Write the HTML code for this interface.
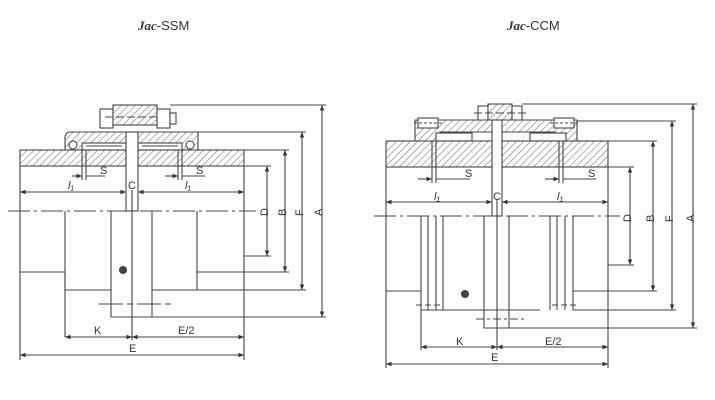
<!DOCTYPE html>
<html><head><meta charset="utf-8"><style>
html,body{margin:0;padding:0;background:#fff}
svg{display:block}
text{font-family:"Liberation Sans",sans-serif;fill:#333}
</style></head><body>
<svg width="715" height="400" viewBox="0 0 715 400" xmlns="http://www.w3.org/2000/svg">
<defs>
<pattern id="h" width="5" height="5" patternUnits="userSpaceOnUse" patternTransform="rotate(45)">
<rect width="5" height="5" fill="#fff"/><line x1="0" y1="0" x2="0" y2="5" stroke="#555" stroke-width="0.9"/></pattern>
<marker id="a" viewBox="0 0 10 10" refX="10" refY="5" markerWidth="6" markerHeight="5" orient="auto-start-reverse">
<path d="M0,1 L10,5 L0,9 z" fill="#333"/></marker>
</defs>
<text x="138" y="30" font-size="13"><tspan font-family="Liberation Serif" font-weight="bold" font-style="italic">Jac</tspan>-SSM</text>
<text x="507" y="30" font-size="13"><tspan font-family="Liberation Serif" font-weight="bold" font-style="italic">Jac</tspan>-CCM</text>

<g stroke="#444" stroke-width="1.1" fill="none">
<!-- ===== LEFT ===== -->
<rect x="100" y="109" width="13" height="19" fill="#fff"/>
<rect x="113" y="105" width="44" height="20" fill="url(#h)"/>
<rect x="157" y="109" width="13" height="19" fill="#fff"/>
<rect x="170" y="113" width="6" height="11" fill="#fff"/>
<line x1="105" y1="117" x2="160" y2="117" stroke-dasharray="8,3"/>
<path d="M65,150 L65,138 Q65,132 71,132 L198,132 L198,150 Z" fill="url(#h)"/>
<rect x="82" y="143" width="44" height="7" fill="#fff"/>
<rect x="138" y="143" width="44" height="7" fill="#fff"/>
<line x1="86" y1="146" x2="122" y2="146"/><line x1="142" y1="146" x2="178" y2="146"/>
<circle cx="73" cy="145" r="4" fill="#fff"/><circle cx="190" cy="145" r="4" fill="#fff"/>
<rect x="20" y="150" width="106" height="16" fill="url(#h)"/>
<rect x="138" y="150" width="106" height="16" fill="url(#h)"/>
<rect x="126" y="132" width="12" height="79" fill="#fff"/>
<path d="M20,166 L20,272 L65,272 L65,337"/>
<path d="M65,211 L65,290 L111,290"/>
<path d="M111,211 L111,317 L152,317 L152,211"/>
<path d="M197,211 L197,290 L152,290"/>
<path d="M197,272 L244,272"/>
<path d="M244,166 L244,360"/>
<path d="M20,272 L20,360"/>
<line x1="132" y1="190" x2="132" y2="340"/>
<line x1="8" y1="211" x2="256" y2="211" stroke-dasharray="22,4,3,4"/>
<line x1="99" y1="304" x2="174" y2="304" stroke-dasharray="24,4,6,4"/>
<circle cx="123" cy="270" r="3.5" fill="#444"/>
<path d="M170,105 H326 M198,132 H306 M244,150 H289 M244,166 H271 M244,256 H271 M197,272 H289 M152,290 H306 M152,317 H326"/>
<line x1="322" y1="105" x2="322" y2="317" marker-start="url(#a)" marker-end="url(#a)"/>
<line x1="302" y1="132" x2="302" y2="290" marker-start="url(#a)" marker-end="url(#a)"/>
<line x1="285" y1="150" x2="285" y2="272" marker-start="url(#a)" marker-end="url(#a)"/>
<line x1="267" y1="166" x2="267" y2="256" marker-start="url(#a)" marker-end="url(#a)"/>
<line x1="20" y1="192" x2="126" y2="192" marker-start="url(#a)" marker-end="url(#a)"/>
<line x1="138" y1="192" x2="244" y2="192" marker-start="url(#a)" marker-end="url(#a)"/>
<line x1="65" y1="337" x2="132" y2="337" marker-start="url(#a)" marker-end="url(#a)"/>
<line x1="132" y1="337" x2="244" y2="337" marker-start="url(#a)" marker-end="url(#a)"/>
<line x1="20" y1="355" x2="244" y2="355" marker-start="url(#a)" marker-end="url(#a)"/>
<path d="M82,150 V180 M86,150 V180 M178,150 V180 M182,150 V180"/>
<line x1="72" y1="176" x2="82" y2="176" marker-end="url(#a)"/><path d="M86,176 H105"/>
<line x1="165" y1="176" x2="178" y2="176" marker-end="url(#a)"/><path d="M182,176 H205"/>

<!-- ===== RIGHT ===== -->
<rect x="478" y="106" width="10" height="17" fill="#fff"/>
<rect x="488" y="104" width="24" height="19" fill="url(#h)"/>
<rect x="512" y="106" width="10" height="17" fill="#fff"/>
<line x1="474" y1="113" x2="526" y2="113" stroke-dasharray="8,3"/>
<path d="M415,141 L415,120 L577,120 L577,141 L555,141 L555,132 L440,132 L440,141 Z" fill="url(#h)"/>
<rect x="418" y="118" width="20" height="10" fill="#fff"/><rect x="554" y="118" width="20" height="10" fill="#fff"/>
<line x1="414" y1="123" x2="442" y2="123" stroke-dasharray="3,2"/><line x1="550" y1="123" x2="578" y2="123" stroke-dasharray="3,2"/>
<rect x="436" y="133" width="36" height="8" fill="#fff"/><rect x="530" y="133" width="36" height="8" fill="#fff"/>
<rect x="386" y="141" width="106" height="26" fill="url(#h)"/>
<rect x="502" y="141" width="106" height="26" fill="url(#h)"/>
<rect x="492" y="120" width="10" height="96" fill="#fff"/>
<path d="M386,167 L386,368 M386,291 L421,291"/>
<path d="M421,216 L421,350 M428,216 V310 M436,216 V310 M443,216 V310 M421,310 H540"/>
<path d="M484,216 L484,328 L509,328 L509,216"/>
<path d="M550,216 V310 M557,216 V310 M565,216 V310 M573,216 V310 L578,310"/>
<path d="M573,291 H608 M608,167 V368"/>
<line x1="497" y1="200" x2="497" y2="350"/>
<line x1="374" y1="216" x2="620" y2="216" stroke-dasharray="22,4,3,4"/>
<line x1="416" y1="305" x2="442" y2="305" stroke-dasharray="6,3"/>
<line x1="552" y1="305" x2="578" y2="305" stroke-dasharray="6,3"/>
<line x1="476" y1="319" x2="526" y2="319" stroke-dasharray="8,3,3,3"/>
<circle cx="465" cy="294" r="3.5" fill="#444"/>
<path d="M522,104 H697 M577,121 H676 M608,141 H657 M608,167 H634 M608,291 H657 M578,310 H676 M509,328 H697"/>
<line x1="693" y1="104" x2="693" y2="328" marker-start="url(#a)" marker-end="url(#a)"/>
<line x1="672" y1="121" x2="672" y2="310" marker-start="url(#a)" marker-end="url(#a)"/>
<line x1="653" y1="141" x2="653" y2="291" marker-start="url(#a)" marker-end="url(#a)"/>
<line x1="630" y1="167" x2="630" y2="265" marker-start="url(#a)" marker-end="url(#a)"/>
<path d="M608,265 H634"/>
<line x1="386" y1="202" x2="492" y2="202" marker-start="url(#a)" marker-end="url(#a)"/>
<line x1="502" y1="202" x2="608" y2="202" marker-start="url(#a)" marker-end="url(#a)"/>
<line x1="421" y1="347" x2="497" y2="347" marker-start="url(#a)" marker-end="url(#a)"/>
<line x1="497" y1="347" x2="608" y2="347" marker-start="url(#a)" marker-end="url(#a)"/>
<line x1="386" y1="364" x2="608" y2="364" marker-start="url(#a)" marker-end="url(#a)"/>
<path d="M432,141 V183 M436,141 V183 M559,141 V183 M563,141 V183"/>
<line x1="418" y1="179" x2="432" y2="179" marker-end="url(#a)"/><path d="M436,179 H470"/>
<line x1="545" y1="179" x2="559" y2="179" marker-end="url(#a)"/><path d="M563,179 H596"/>
</g>

<g font-size="11">
<text x="100" y="174">S</text><text x="196" y="174">S</text>
<text x="68" y="189" font-style="italic">l₁</text><text x="185" y="189" font-style="italic">l₁</text>
<text x="128" y="189">C</text>
<text x="94" y="334">K</text><text x="178" y="334">E/2</text><text x="129" y="352">E</text>
<text x="465" y="177">S</text><text x="588" y="177">S</text>
<text x="434" y="200" font-style="italic">l₁</text><text x="557" y="200" font-style="italic">l₁</text>
<text x="493" y="200">C</text>
<text x="456" y="345">K</text><text x="545" y="345">E/2</text><text x="491" y="361">E</text>
<g transform="rotate(-90)">
<text x="-216" y="268">D</text><text x="-216" y="286">B</text><text x="-216" y="303">F</text><text x="-216" y="322">A</text>
<text x="-222" y="631">D</text><text x="-222" y="654">B</text><text x="-222" y="673">F</text><text x="-222" y="694">A</text>
</g>
</g>
</svg>
</body></html>
